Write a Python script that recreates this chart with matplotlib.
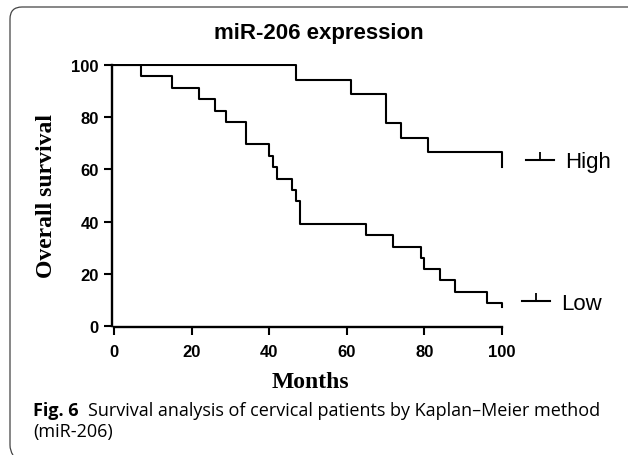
import matplotlib
matplotlib.use("Agg")
import matplotlib.pyplot as plt
from matplotlib.lines import Line2D
from matplotlib.path import Path
from matplotlib.patches import PathPatch

# ---- data ----
high_months = [0, 47, 61, 70, 74, 81, 100]
high_survival = [100, 94.4, 88.9, 77.8, 72.2, 66.7, 61.1]

low_months = [0, 7, 15, 22, 26, 29, 34, 40, 41, 42, 46, 47, 48, 65, 72, 79, 80, 84, 88, 96, 100]
low_survival = [100, 95.7, 91.3, 87.0, 82.6, 78.3, 69.6, 65.2, 60.9, 56.5, 52.2, 47.8, 39.1,
                34.8, 30.4, 26.1, 21.7, 17.4, 13.0, 8.7, 7.0]

x_ticks = [0, 20, 40, 60, 80, 100]
y_ticks = [0, 20, 40, 60, 80, 100]
series_labels = ["High", "Low"]

title = "miR-206 expression"
xlabel = "Months"
ylabel = "Overall survival"
caption_bold = "Fig. 6"
caption_text = "Survival analysis of cervical patients by Kaplan\u2013Meier method"
caption_line2 = "(miR-206)"

W, H = 630, 456
fig = plt.figure(figsize=(W / 100, H / 100), dpi=100)
ax = fig.add_axes([112 / W, 1 - 328 / H, (504 - 112) / W, (328 - 65) / H])

lw = 1.5
ax.step(high_months, high_survival, where="post", color="black", lw=lw)
ax.step(low_months, low_survival, where="post", color="black", lw=lw)

ax.set_xticks(x_ticks)
ax.set_yticks(y_ticks)
for s in ["top", "right"]:
    ax.spines[s].set_visible(False)
for s in ["left", "bottom"]:
    ax.spines[s].set_linewidth(1.7)
ax.spines["left"].set_bounds(0, 100)
ax.spines["bottom"].set_bounds(0, 100)
ax.tick_params(width=1.5, length=6, direction="out")
ax.tick_params(axis="x", pad=6)
ax.tick_params(axis="y", pad=3.5)
for lab in ax.get_xticklabels() + ax.get_yticklabels():
    lab.set_fontfamily("Liberation Sans")
    lab.set_fontweight("bold")
    lab.set_fontsize(12)
ax.set_xlim(-0.5, 100.5)
ax.set_ylim(-0.5, 100.5)

# axis labels (placed in figure pixel coordinates)
fig.text(310 / W, 1 - 388 / H, xlabel, ha="center", va="baseline",
         fontfamily="Liberation Serif", fontweight="bold", fontsize=17)
fig.text(46.5 / W, 1 - 196.5 / H, ylabel, ha="center", va="center", rotation=90,
         fontfamily="Liberation Serif", fontweight="bold", fontsize=17)

fig.text(318.5 / W, 1 - 39 / H, title, ha="center", va="baseline",
         fontfamily="Liberation Sans", fontweight="bold", fontsize=16)

# legends with censor-tick markers
def handle():
    return Line2D([0], [0], color="black", lw=lw, marker=2, markersize=5.5, markeredgewidth=1.3)

common = dict(loc="center left", frameon=False, handlelength=1.25, handletextpad=0.5,
              numpoints=1, borderpad=0, borderaxespad=0,
              prop={"family": "Liberation Sans", "size": 16})
leg1 = ax.legend([handle()], [series_labels[0]],
                 bbox_to_anchor=((526 - 112) / 392, (328 - 163) / 263), **common)
ax.add_artist(leg1)
leg2 = ax.legend([handle()], [series_labels[1]],
                 bbox_to_anchor=((522 - 112) / 392, (328 - 304) / 263), **common)

# caption
fig.text(33 / W, 1 - 411 / H, caption_bold, ha="left", va="center",
         fontfamily="Open Sans", fontweight="bold", fontsize=13)
fig.text(88 / W, 1 - 411 / H, caption_text,
         ha="left", va="center", fontfamily="Open Sans", fontsize=13)
fig.text(33 / W, 1 - 432 / H, caption_line2, ha="left", va="center",
         fontfamily="Open Sans", fontsize=13)

# rounded frame (top and left edges)
verts = [(628, 8), (22, 8), (10, 8), (10, 20), (10, 446), (10, 452), (13, 456)]
codes = [Path.MOVETO, Path.LINETO, Path.CURVE3, Path.CURVE3, Path.LINETO, Path.CURVE3, Path.CURVE3]
verts = [(x / W, 1 - y / H) for x, y in verts]
fig.add_artist(PathPatch(Path(verts, codes), fill=False, edgecolor="#444444", lw=0.9,
                         transform=fig.transFigure))

fig.savefig("out.png", dpi=100)
